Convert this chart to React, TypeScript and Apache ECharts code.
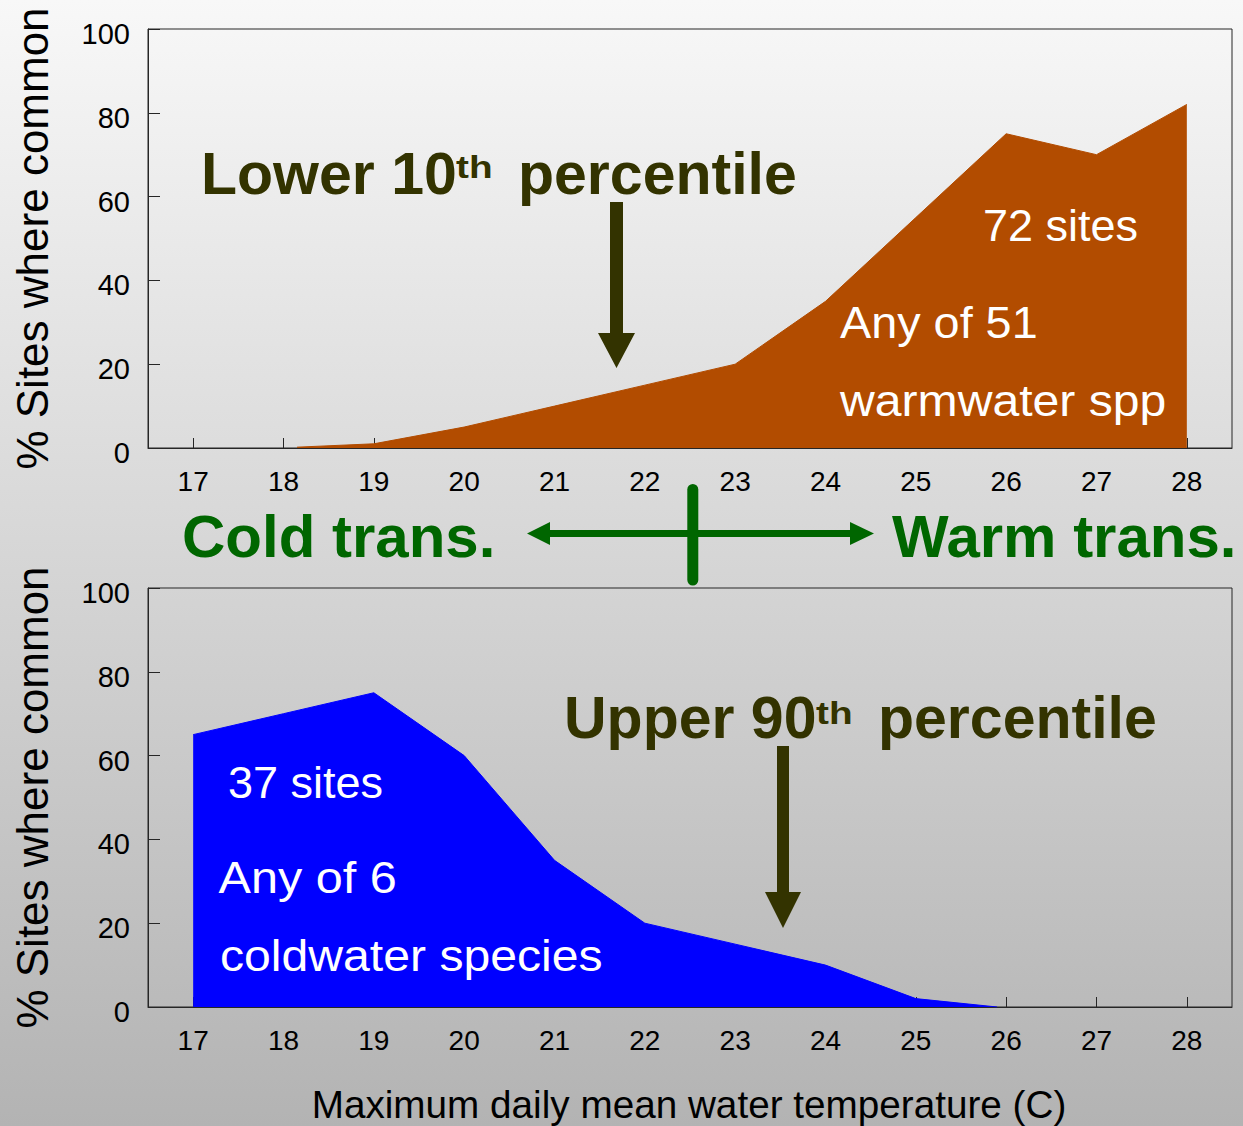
import React, { useEffect, useRef } from "react";
import * as echarts from "echarts";

// ---- data ----
const tempTicks = [17, 18, 19, 20, 21, 22, 23, 24, 25, 26, 27, 28];
const pctTicks = [0, 20, 40, 60, 80, 100];

const warmTemps = [18.15, 19, 20, 21, 22, 23, 24, 25, 26, 27, 28];
const warmPct = [0.2, 1, 5, 10, 15, 20, 35, 55, 75, 70, 82];

const coldTemps = [17, 18, 19, 20, 21, 22, 23, 24, 25, 25.9];
const coldPct = [65, 70, 75, 60, 35, 20, 15, 10, 2, 0];

const yAxisTitle = "% Sites where common";
const xAxisTitle = "Maximum daily mean water temperature (C)";

const FONT = "'Liberation Sans', Arial, Helvetica, sans-serif";
const OLIVE = "#333300";
const GREEN = "#006600";
const FRAME = "#262626";

function makeXAxis(gridIndex: number) {
  return {
    gridIndex,
    type: "value",
    min: 16.5,
    max: 28.5,
    axisLine: { show: true, onZero: false, lineStyle: { color: FRAME, width: 1 } },
    axisTick: { show: true, inside: true, length: 10, customValues: tempTicks, lineStyle: { color: FRAME, width: 1 } },
    axisLabel: { show: true, customValues: tempTicks, margin: 19, fontSize: 28, color: "#000", fontFamily: FONT },
    splitLine: { show: false },
  };
}

function makeYAxis(gridIndex: number) {
  return {
    gridIndex,
    type: "value",
    min: 0,
    max: 100,
    interval: 20,
    axisLine: { show: true, lineStyle: { color: FRAME, width: 1 } },
    axisTick: { show: true, inside: true, length: 12, lineStyle: { color: FRAME, width: 1 } },
    axisLabel: {
      show: true,
      margin: 18,
      formatter: (v: number) => (pctTicks.includes(v) ? `{t|${v}}` : ""),
      rich: {
        t: { fontSize: 29, color: "#000", fontFamily: FONT, padding: [10, 0, 0, 0] },
      },
    },
    splitLine: { show: false },
  };
}

function txt(text: string, x: number, y: number, size: number, fill: string, bold = false, extra: any = {}) {
  const { align, ...rest } = extra;
  return {
    type: "text",
    x,
    y,
    z: 100,
    ...rest,
    style: {
      text,
      fill,
      fontSize: size,
      fontFamily: FONT,
      fontWeight: bold ? "bold" : "normal",
      align: align || "left",
      verticalAlign: "middle",
    },
  };
}

export default function App() {
  const ref = useRef<HTMLDivElement>(null);

  useEffect(() => {
    if (!ref.current) return;
    const chart = echarts.init(ref.current, undefined, { renderer: "svg" });

    const option: any = {
      animation: false,
      backgroundColor: {
        type: "linear",
        x: 0,
        y: 0,
        x2: 0,
        y2: 1,
        colorStops: [
          { offset: 0, color: "#f8f8f8" },
          { offset: 1, color: "#b3b3b3" },
        ],
      },
      grid: [
        { left: 148, top: 29, width: 1084, height: 419, show: true, borderColor: FRAME, borderWidth: 1, backgroundColor: "transparent" },
        { left: 148, top: 588, width: 1084, height: 419, show: true, borderColor: FRAME, borderWidth: 1, backgroundColor: "transparent" },
      ],
      xAxis: [makeXAxis(0), makeXAxis(1)],
      yAxis: [makeYAxis(0), makeYAxis(1)],
      series: [
        {
          name: "Warmwater",
          type: "line",
          xAxisIndex: 0,
          yAxisIndex: 0,
          data: warmTemps.map((t, i) => [t, warmPct[i]]),
          symbol: "none",
          showSymbol: false,
          lineStyle: { width: 1, color: "#B24C00" },
          areaStyle: { color: "#B24C00", opacity: 1 },
          z: 5,
        },
        {
          name: "Coldwater",
          type: "line",
          xAxisIndex: 1,
          yAxisIndex: 1,
          data: coldTemps.map((t, i) => [t, coldPct[i]]),
          symbol: "none",
          showSymbol: false,
          lineStyle: { width: 1, color: "#0000FF" },
          areaStyle: { color: "#0000FF", opacity: 1 },
          z: 5,
        },
      ],
      graphic: [
        // axis titles
        txt(yAxisTitle, 32, 238.5, 44, "#000", false, { rotation: Math.PI / 2, align: "center" }),
        txt(yAxisTitle, 32, 797.5, 44, "#000", false, { rotation: Math.PI / 2, align: "center" }),
        txt(xAxisTitle, 689, 1104, 38.7, "#000", false, { align: "center" }),

        // top annotations
        txt("Lower 10", 201, 174.4, 59, OLIVE, true),
        txt("th", 456, 166.5, 31, OLIVE, true, { scaleX: 1.25 }),
        txt("percentile", 518, 174.4, 59, OLIVE, true),
        {
          type: "polygon",
          z: 100,
          shape: { points: [[610, 202], [623, 202], [623, 333], [635, 333], [616.5, 368], [598, 333], [610, 333]] },
          style: { fill: OLIVE },
        },
        txt("72 sites", 983, 225.4, 45, "#ffffff"),
        txt("Any of 51", 840, 322.7, 45, "#ffffff", false, { scaleX: 1.04 }),
        txt("warmwater spp", 840, 401, 45, "#ffffff", false, { scaleX: 1.07 }),

        // transition row
        txt("Cold trans.", 182, 536.5, 60, GREEN, true),
        txt("Warm trans.", 892, 536.5, 60, GREEN, true),
        {
          type: "polygon",
          z: 100,
          shape: {
            points: [
              [527, 533.5], [550, 522], [550, 530], [850, 530], [850, 522], [874, 533.5],
              [850, 545], [850, 537], [550, 537], [550, 545],
            ],
          },
          style: { fill: GREEN },
        },
        {
          type: "line",
          z: 101,
          shape: { x1: 692.8, y1: 489.5, x2: 692.8, y2: 580 },
          style: { stroke: GREEN, lineWidth: 11, lineCap: "round" },
        },

        // bottom annotations
        txt("Upper 90", 564, 718.4, 59, OLIVE, true),
        txt("th", 816, 712.5, 31, OLIVE, true, { scaleX: 1.25 }),
        txt("percentile", 878, 718.4, 59, OLIVE, true),
        {
          type: "polygon",
          z: 100,
          shape: { points: [[777, 746], [789, 746], [789, 892], [801, 892], [783, 928], [765, 892], [777, 892]] },
          style: { fill: OLIVE },
        },
        txt("37 sites", 228, 782.7, 45, "#ffffff"),
        txt("Any of 6", 218.5, 877.7, 45, "#ffffff", false, { scaleX: 1.08 }),
        txt("coldwater species", 220, 956, 45, "#ffffff", false, { scaleX: 1.07 }),
      ],
    };

    chart.setOption(option);
    return () => chart.dispose();
  }, []);

  return (
    <div
      ref={ref}
      style={{ position: "absolute", left: 0, top: 0, width: 1243, height: 1126 }}
    />
  );
}
